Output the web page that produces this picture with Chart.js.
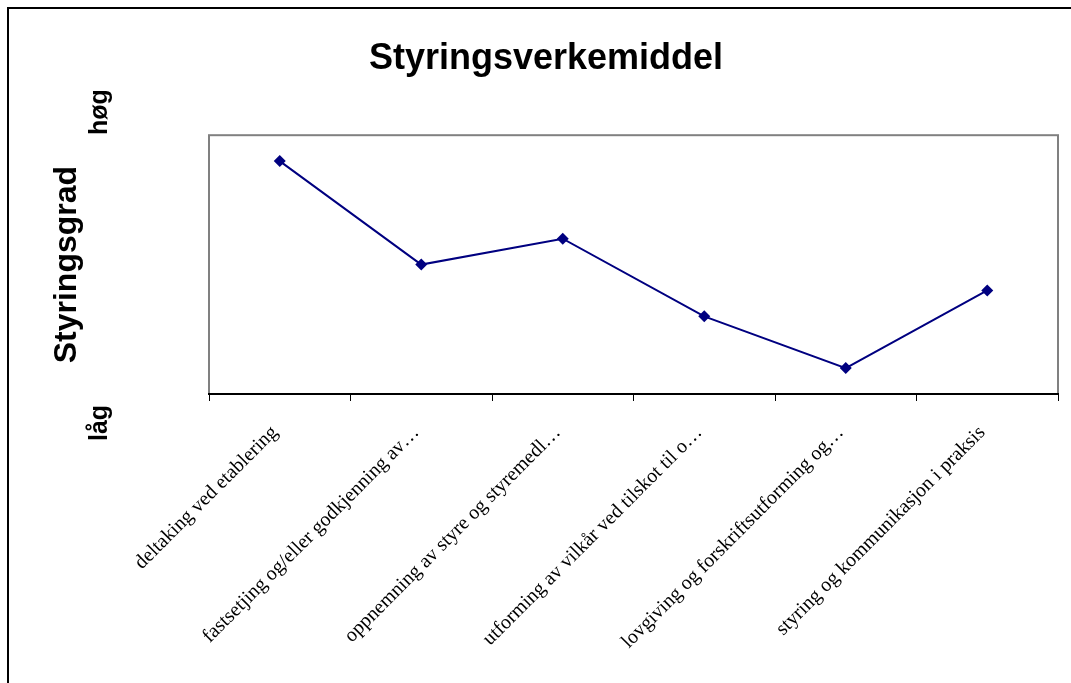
<!DOCTYPE html>
<html>
<head>
<meta charset="utf-8">
<script src="https://cdn.jsdelivr.net/npm/chart.js@4/dist/chart.umd.min.js"></script>
<style>
  html, body { margin: 0; padding: 0; background: #fff; }
  #wrap { width: 1071px; height: 683px; }
</style>
</head>
<body>
<div id="wrap"><canvas id="chart" width="1071" height="683"></canvas></div>
<script>
// categories on the x axis (Excel cut the long ones with an ellipsis)
const categories = [
  'deltaking ved etablering',
  'fastsetjing og/eller godkjenning av…',
  'oppnemning av styre og styremedl…',
  'utforming av vilkår ved tilskot til o…',
  'lovgiving og forskriftsutforming og…',
  'styring og kommunikasjon i praksis'
];
const styringsgrad = [9, 5, 6, 3, 1, 4];
const yMin = 0;
const yMax = 10;
const lowLabel = 'låg';
const highLabel = 'høg';

// white page, outer frame, grey plot box and the låg/høg words
const framePlugin = {
  id: 'frame',
  beforeDraw(chart) {
    const ctx = chart.ctx;
    const a = chart.chartArea;
    ctx.save();
    ctx.fillStyle = '#fff';
    ctx.fillRect(0, 0, chart.width, chart.height);
    ctx.strokeStyle = '#000';
    ctx.lineWidth = 2;
    ctx.beginPath();
    ctx.moveTo(8, chart.height);
    ctx.lineTo(8, 8);
    ctx.lineTo(chart.width, 8);
    ctx.stroke();
    ctx.strokeStyle = '#808080';
    ctx.lineWidth = 2;
    ctx.strokeRect(a.left, a.top, a.right - a.left, a.bottom - a.top);
    ctx.restore();
  },
  afterDraw(chart) {
    const ctx = chart.ctx;
    const a = chart.chartArea;
    ctx.save();
    ctx.fillStyle = '#000';
    ctx.font = 'bold 25px "Liberation Sans", Arial, sans-serif';
    ctx.textAlign = 'center';
    ctx.textBaseline = 'middle';
    ctx.translate(100, a.top - 23);
    ctx.rotate(-Math.PI / 2);
    ctx.fillText(highLabel, 0, 0);
    ctx.restore();
    ctx.save();
    ctx.fillStyle = '#000';
    ctx.font = 'bold 25px "Liberation Sans", Arial, sans-serif';
    ctx.textAlign = 'center';
    ctx.textBaseline = 'middle';
    ctx.translate(100, a.bottom + 29);
    ctx.rotate(-Math.PI / 2);
    ctx.fillText(lowLabel, 0, 0);
    ctx.restore();
  }
};

new Chart(document.getElementById('chart'), {
  type: 'line',
  data: {
    labels: categories,
    datasets: [{
      label: 'Styringsgrad',
      data: styringsgrad,
      borderColor: '#000080',
      backgroundColor: '#000080',
      borderWidth: 2,
      pointStyle: 'rectRot',
      pointRadius: 6,
      pointBorderWidth: 0,
      tension: 0
    }]
  },
  options: {
    responsive: false,
    animation: false,
    layout: { padding: { left: 34, right: 13, top: 0, bottom: 0 } },
    plugins: {
      legend: { display: false },
      tooltip: { enabled: false },
      title: {
        display: true,
        text: 'Styringsverkemiddel',
        color: '#000',
        font: { family: '"Liberation Sans", Arial, sans-serif', size: 36, weight: 'bold', lineHeight: 1.2 },
        padding: { top: 37, bottom: 55 }
      }
    },
    scales: {
      x: {
        offset: true,
        grid: { offset: true, drawOnChartArea: false, drawTicks: true, tickLength: 7, color: '#000', lineWidth: 1 },
        border: { display: true, color: '#000', width: 2 },
        ticks: {
          autoSkip: false,
          minRotation: 45,
          maxRotation: 45,
          padding: 20,
          labelOffset: -5,
          color: '#000',
          font: { family: '"Liberation Serif", "Times New Roman", serif', size: 20 }
        },
        afterFit(scale) { scale.height = 289; }
      },
      y: {
        min: yMin,
        max: yMax,
        grid: { display: false, drawTicks: false },
        border: { display: false },
        ticks: { display: false },
        title: {
          display: true,
          text: 'Styringsgrad',
          color: '#000',
          font: { family: '"Liberation Sans", Arial, sans-serif', size: 32, weight: 'bold', lineHeight: 1.2 },
          padding: { top: 14, bottom: 0 }
        },
        afterFit(scale) { scale.width = 175; }
      }
    }
  },
  plugins: [framePlugin]
});
</script>
</body>
</html>
